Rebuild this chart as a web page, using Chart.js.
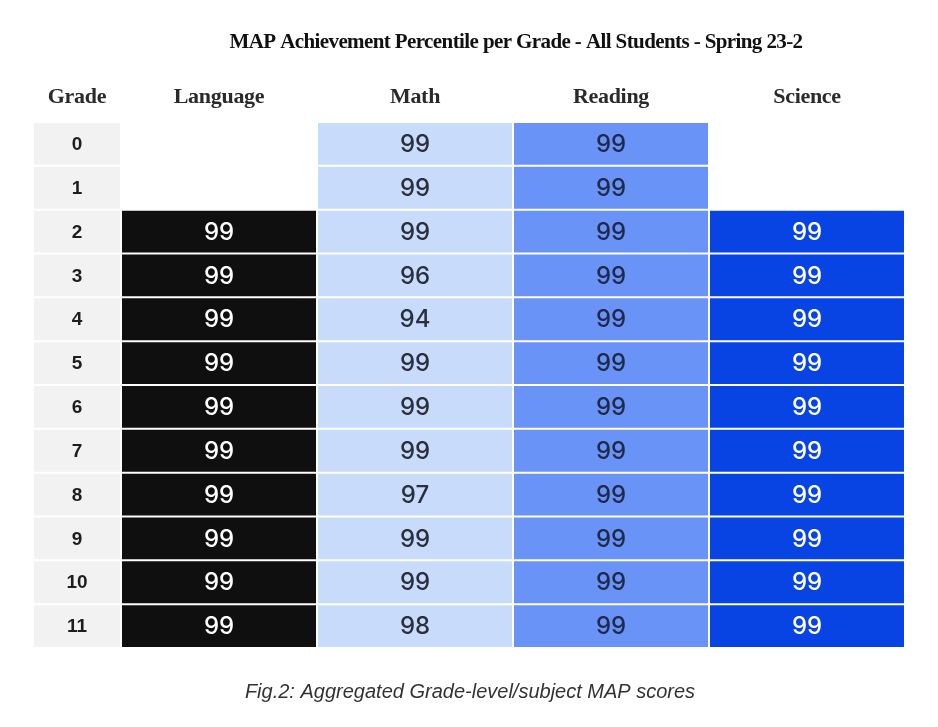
<!DOCTYPE html>
<html>
<head>
<meta charset="utf-8">
<script src="https://cdn.jsdelivr.net/npm/chart.js@4.4.0/dist/chart.umd.min.js"></script>
<style>
html,body{margin:0;padding:0;background:#fff;}
#wrap{width:938px;height:727px;position:relative;}
</style>
</head>
<body>
<div id="wrap"><canvas id="c" width="938" height="727"></canvas></div>
<script>
// ---- data ----
const grades = ['0','1','2','3','4','5','6','7','8','9','10','11'];
const subjects = ['Language','Math','Reading','Science'];
const language = [null,null,99,99,99,99,99,99,99,99,99,99];
const math     = [99,99,99,96,94,99,99,99,97,99,99,98];
const reading  = [99,99,99,99,99,99,99,99,99,99,99,99];
const science  = [null,null,99,99,99,99,99,99,99,99,99,99];
const title = 'MAP Achievement Percentile per Grade - All Students - Spring 23-2';
const caption = 'Fig.2: Aggregated Grade-level/subject MAP scores';

// ---- styling / layout ----
const seriesValues = [language, math, reading, science];
const fillColors = ['#0f0f10', '#c9dbfb', '#6a93f8', '#0844e4'];
const textColors = ['#ffffff', '#2a2f3e', '#1f2a4a', '#ffffff'];
const gradeFill = '#f2f2f2';
// column spans on the x scale: grade column then four subjects
const colSpans = [[0,86],[88,282],[284,478],[480,674],[676,870]];

const datasets = [{
  label: 'Grade',
  data: grades.map(() => colSpans[0]),
  backgroundColor: gradeFill,
  grouped: false,
  barPercentage: 0.955,
  categoryPercentage: 1
}];
seriesValues.forEach((vals, i) => {
  datasets.push({
    label: subjects[i],
    data: vals.map(v => v == null ? null : colSpans[i+1]),
    backgroundColor: fillColors[i],
    grouped: false,
    barPercentage: 0.955,
    categoryPercentage: 1
  });
});

const textPlugin = {
  id: 'tableText',
  afterDatasetsDraw(chart) {
    const ctx = chart.ctx;
    const x = chart.scales.x, y = chart.scales.y;
    ctx.save();
    ctx.textAlign = 'center';
    ctx.textBaseline = 'middle';
    // title
    ctx.fillStyle = '#111';
    ctx.font = 'bold 21px "Liberation Serif"';
    ctx.letterSpacing = '-0.6px';
    ctx.fillText(title, 516, 43);
    // headers
    ctx.font = 'bold 22px "Liberation Serif"';
    ctx.letterSpacing = '-0.3px';
    ctx.fillStyle = '#2a2a2a';
    const headers = ['Grade'].concat(subjects);
    headers.forEach((h, i) => {
      const cx = (x.getPixelForValue(colSpans[i][0]) + x.getPixelForValue(colSpans[i][1])) / 2;
      ctx.fillText(h, cx, 97);
    });
    ctx.letterSpacing = '0px';
    // grade labels
    ctx.font = 'bold 19px "Liberation Sans"';
    ctx.fillStyle = '#1e1e1e';
    const gx = (x.getPixelForValue(colSpans[0][0]) + x.getPixelForValue(colSpans[0][1])) / 2;
    grades.forEach((g, r) => ctx.fillText(g, gx, y.getPixelForValue(r) + 1));
    // cell values
    ctx.font = '500 24px "Inter"';
    seriesValues.forEach((vals, i) => {
      const cx = (x.getPixelForValue(colSpans[i+1][0]) + x.getPixelForValue(colSpans[i+1][1])) / 2;
      ctx.fillStyle = textColors[i];
      vals.forEach((v, r) => {
        if (v != null) ctx.fillText(String(v), cx, y.getPixelForValue(r) + 1);
      });
    });
    // caption
    ctx.font = 'italic 20px "Liberation Sans"';
    ctx.fillStyle = '#333';
    ctx.fillText(caption, 470, 692);
    ctx.restore();
  }
};

new Chart(document.getElementById('c'), {
  type: 'bar',
  data: { labels: grades, datasets },
  options: {
    indexAxis: 'y',
    responsive: false,
    animation: false,
    events: [],
    layout: { padding: { left: 34, right: 34, top: 122, bottom: 79 } },
    scales: {
      x: { type: 'linear', min: 0, max: 870, display: false },
      y: { type: 'category', display: false, offset: true }
    },
    plugins: { legend: { display: false }, tooltip: { enabled: false }, title: { display: false } }
  },
  plugins: [textPlugin]
});
</script>
</body>
</html>
